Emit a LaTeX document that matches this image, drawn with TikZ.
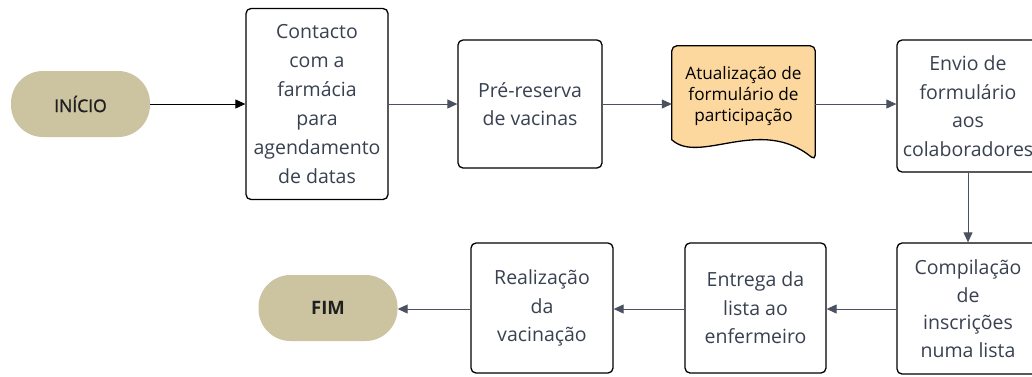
\documentclass[tikz,border=0pt]{standalone}
\usepackage{fontspec}
\setmainfont{Open Sans}
\usetikzlibrary{arrows.meta,calc}
\definecolor{tanfill}{HTML}{CCC3A1}
\definecolor{docfill}{HTML}{FDD89E}
\definecolor{txt}{HTML}{394150}
\definecolor{arr}{HTML}{4A5160}
\begin{document}
\begin{tikzpicture}[x=1pt,y=-1pt,
  proc/.style={draw=black, line width=1.3pt, rounded corners=5pt, fill=white,
    align=center, text=txt, font=\fontsize{19.5}{28.5}\selectfont, inner sep=0pt},
  term/.style={fill=tanfill, rounded corners=32pt, minimum width=139pt,
    minimum height=66pt, inner sep=0pt, text=black!88},
  conn/.style={draw=arr, line width=1pt, -{Triangle[length=10pt,width=9pt]}},
  docshape/.style={draw=black, line width=1.3pt, fill=docfill}
]
\useasboundingbox (0,0) rectangle (1032,376);

% terminals
\node[term, font=\fontsize{17.5}{17.5}\selectfont\addfontfeatures{FakeBold=1.2}] (start) at (80.5,104) {INÍCIO};
\node[term, font=\fontsize{18.5}{18.5}\selectfont\bfseries] (fim) at (328,308) {FIM};

% top row
\node[proc, minimum width=142pt, minimum height=191pt, font=\fontsize{19.5}{29}\selectfont] (b1) at (317,104)
  {Contacto\\com a\\farmácia\\para\\agendamento\\de datas};
\node[proc, minimum width=144pt, minimum height=128pt] (b2) at (530,104)
  {Pré-reserva\\de vacinas};

% document shape
\node[minimum width=143pt, minimum height=114pt, inner sep=0pt] (doc) at (743.5,103) {};
\draw[docshape] ($(doc.north west)+(0,94)$) [rounded corners=5pt] -- (doc.north west)
  -- (doc.north east) -- (doc.south east) [sharp corners]
  .. controls ($(doc.south east)+(-55,-45)$) and ($(doc.south west)+(28,5)$)
  .. ($(doc.north west)+(0,94)$) -- cycle;
\node[align=center, font=\fontsize{17.2}{21}\selectfont, text=black, inner sep=0pt]
  (doctext) at (743.5,96) {Atualização de\\formulário de\\participação};

\node[proc, minimum width=142pt, minimum height=132pt] (b4) at (968,106)
  {Envio de\\formulário\\aos\\colaboradores};

% bottom row
\node[proc, minimum width=142pt, minimum height=131pt, font=\fontsize{19.5}{27.5}\selectfont] (b5) at (968,308.5)
  {Compilação\\de\\inscrições\\numa lista};
\node[proc, minimum width=141pt, minimum height=130pt] (b6) at (755.5,308)
  {Entrega da\\lista ao\\enfermeiro};
\node[proc, minimum width=142pt, minimum height=130pt] (b7) at (542,308)
  {Realização\\da\\vacinação};

% connectors
\draw[conn, draw=black] (start) -- (b1);
\draw[conn] (b1) -- (b2);
\draw[conn] (b2.east) -- (b2.east -| doc.west);
\draw[conn] (doc.east |- b2.east) -- (b2.east -| b4.west);
\draw[conn] (b4) -- (b5);
\draw[conn] (b5.west |- 0,309) -- (b6.east |- 0,309);
\draw[conn] (b6.west |- 0,309) -- (b7.east |- 0,309);
\draw[conn] (b7.west |- 0,309) -- (fim.east |- 0,309);
\end{tikzpicture}
\end{document}
